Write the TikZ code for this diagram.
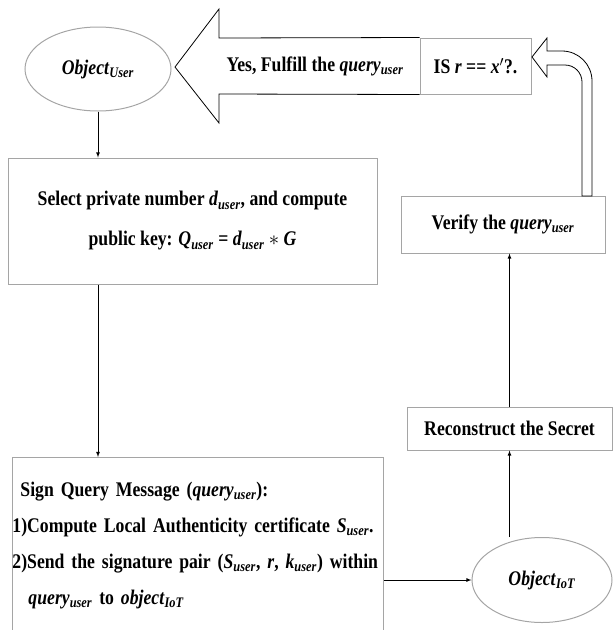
\documentclass[tikz,border=0pt]{standalone}
\usepackage{fontspec}
\setmainfont{Liberation Serif}[FakeStretch=0.85]
\usepackage{amsmath}
\usepackage{tikz}
\usetikzlibrary{shapes.geometric}

\definecolor{boxgray}{RGB}{165,165,165}
\newcommand{\vsub}[2]{\textit{#1}\textsubscript{\textit{#2}}}

\tikzset{
	txt/.style={font=\fontsize{20.8}{36}\selectfont\bfseries},
	box/.style={draw=boxgray, line width=1pt, fill=white, txt, align=center},
	obj/.style={draw=boxgray, line width=1pt, ellipse, txt},
	flow/.style={->, >=latex, line width=0.8pt},
}

\begin{document}
\begin{tikzpicture}[x=1pt, y=-1pt]
		\useasboundingbox (0,0) rectangle (613,630);
		
		% Draw the nodes
		\node[obj, minimum width=146pt, minimum height=84pt] (user) at (98,69) {\vsub{Object}{User}};
		\node[box, minimum width=369pt, minimum height=126pt, font=\fontsize{20.8}{40}\selectfont\bfseries] (select) at (192.5,221)
			{Select private number \vsub{d}{user}, and compute\\public key: \vsub{Q}{user} = \vsub{d}{user} $*$ \textit{G}};
		\node[box, minimum width=371pt, minimum height=176pt, anchor=north west, align=left,
			text width=371pt, inner xsep=0pt] (sign) at (12,457)
			{\hspace*{8pt}Sign Query Message (\vsub{query}{user}):\\
			1)Compute Local Authenticity certificate \vsub{S}{user}.\\
			2)Send the signature pair (\vsub{S}{user}, \textit{r}, \vsub{k}{user}) within\\
			\hspace*{16pt}\vsub{query}{user} to \vsub{object}{IoT}};
		\node[obj, minimum width=140pt, minimum height=85pt] (iot) at (542,580) {\vsub{Object}{IoT}};
		\node[box, minimum width=205pt, minimum height=43pt] (rec) at (509.5,428.5) {Reconstruct the Secret};
		\node[box, minimum width=204pt, minimum height=57pt] (verify) at (503,224.5) {Verify the \vsub{query}{user}};
		\node[box, minimum width=111pt, minimum height=56pt] (check) at (475.5,66) {IS \textit{r} == \textit{x}$'$?.};
		
		% Big arrow back to the user
		\draw[line width=0.8pt, fill=white] (check.north west) -- (219,38) -- (219,9) -- (175,67)
			-- (219,123) -- (219,94) -- (check.south west);
		\node[txt] (yes) at (315,66) {Yes, Fulfill the \vsub{query}{user}};
		
		% Hollow arrow from verify up to the check
		\draw[line width=0.8pt, fill=white] (582,196) -- (582,82) arc (0:-90:17) -- (547,65) -- (547,77)
			-- (532,57) -- (547,38) -- (547,51) -- (562,51) arc (-90:0:30) -- (592,196) -- cycle;
		
		% Draw the connectors
		\draw[flow] (user.south) -- (user.south |- select.north);
		\draw[flow] (user.south |- select.south) -- (user.south |- sign.north);
		\draw[flow] (iot.west -| sign.east) -- (iot.west);
		\draw[flow] (rec.south |- iot.north) -- (rec.south);
		\draw[flow] (rec.north) -- (rec.north |- verify.south);
	\end{tikzpicture}
\end{document}
